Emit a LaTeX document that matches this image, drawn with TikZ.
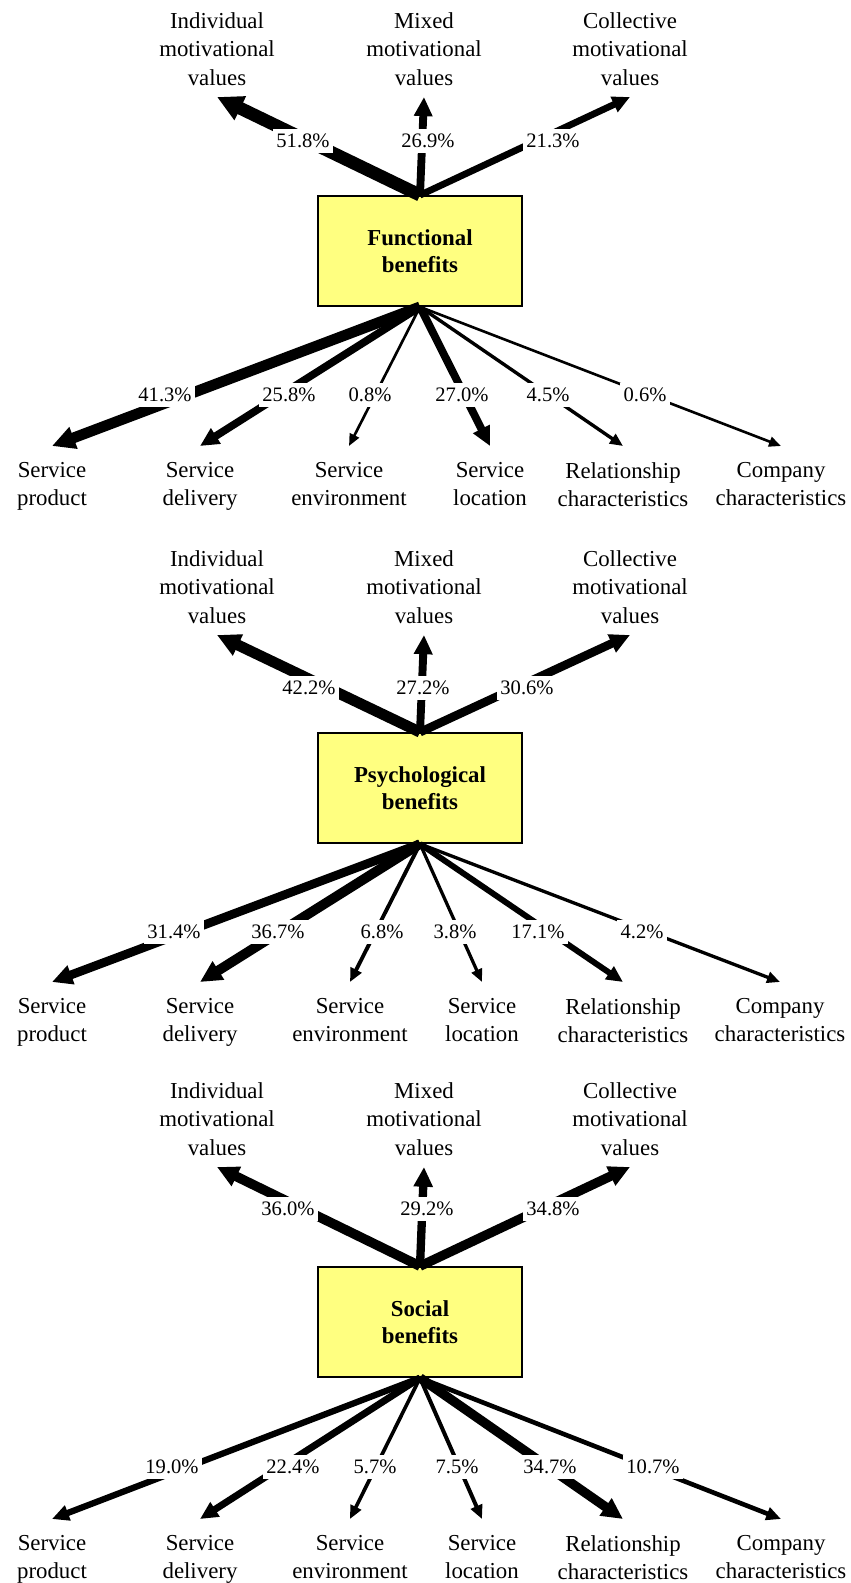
\documentclass[tikz,border=0pt]{standalone}
\usepackage{fontspec}
\setmainfont{Liberation Serif}
\usetikzlibrary{arrows.meta}

\definecolor{boxyellow}{HTML}{FFFF80}

\tikzset{
    benefit/.style={draw, line width=1pt, fill=boxyellow, minimum width=4.08cm, minimum height=2.2cm,
        align=center, font=\fontsize{13}{15.3}\selectfont\bfseries},
    motive/.style={anchor=south, align=center, inner xsep=0pt, inner ysep=6.5pt, font=\fontsize{13}{16.2}\selectfont},
    attribute/.style={anchor=north, align=center, inner xsep=0pt, inner ysep=9pt, font=\fontsize{13}{16.2}\selectfont},
    share/.style={fill=white, inner xsep=2pt, inner ysep=3pt, font=\fontsize{11.7}{14}\selectfont},
    flow/.style={-{Triangle[length=4.8pt 1.36, width=3.5pt 1.46]}}
}

\begin{document}
\begin{tikzpicture}[x=0.02cm, y=-0.02cm]
    
    \useasboundingbox (0,0) rectangle (850,1583);
    
    % Functional benefits
    \node[benefit] (fb) at (420,251) {Functional\\benefits};
    \node[motive] (fi) at (217,97) {Individual\\motivational\\values};
    \node[motive] (fm) at (424,97) {Mixed\\motivational\\values};
    \node[motive] (fc) at (630,97) {Collective\\motivational\\values};
    \node[attribute] (fsp) at (52,446) {Service\\product};
    \node[attribute] (fsd) at (200,446) {Service\\delivery};
    \node[attribute] (fse) at (349,446) {Service\\environment};
    \node[attribute] (fsl) at (490,446) {Service\\location};
    \node[attribute] (frc) at (623,446) {Relationship\\characteristics};
    \node[attribute] (fcc) at (781,446) {Company\\characteristics};
    
    % line width grows with the share
    \foreach \n/\w/\x in {fi/51.8/303, fm/26.9/428, fc/21.3/553} {
        \pgfmathsetmacro{\lw}{0.567*(2.5+0.2*\w)}
        \draw[flow, line width=\lw pt] (fb.north) -- (\n.south);
        \node[share] (\n-pct) at (\x,141) {\w\%};
    }
    \foreach \n/\w/\x in {fsp/41.3/165, fsd/25.8/289, fse/0.8/370, fsl/27.0/462, frc/4.5/548, fcc/0.6/645} {
        \pgfmathsetmacro{\lw}{0.567*(2.5+0.2*\w)}
        \draw[flow, line width=\lw pt] (fb.south) -- (\n.north);
        \node[share] (\n-pct) at (\x,395) {\w\%};
    }
    
    % Psychological benefits
    \node[benefit] (pb) at (420,788) {Psychological\\benefits};
    \node[motive] (pi) at (217,635) {Individual\\motivational\\values};
    \node[motive] (pm) at (424,635) {Mixed\\motivational\\values};
    \node[motive] (pc) at (630,635) {Collective\\motivational\\values};
    \node[attribute] (psp) at (52,982) {Service\\product};
    \node[attribute] (psd) at (200,982) {Service\\delivery};
    \node[attribute] (pse) at (350,982) {Service\\environment};
    \node[attribute] (psl) at (482,982) {Service\\location};
    \node[attribute] (prc) at (623,982) {Relationship\\characteristics};
    \node[attribute] (pcc) at (780,982) {Company\\characteristics};
    
    \foreach \n/\w/\x in {pi/42.2/309, pm/27.2/423, pc/30.6/527} {
        \pgfmathsetmacro{\lw}{0.567*(2.5+0.2*\w)}
        \draw[flow, line width=\lw pt] (pb.north) -- (\n.south);
        \node[share] (\n-pct) at (\x,688) {\w\%};
    }
    \foreach \n/\w/\x in {psp/31.4/174, psd/36.7/278, pse/6.8/382, psl/3.8/455, prc/17.1/538, pcc/4.2/642} {
        \pgfmathsetmacro{\lw}{0.567*(2.5+0.2*\w)}
        \draw[flow, line width=\lw pt] (pb.south) -- (\n.north);
        \node[share] (\n-pct) at (\x,932) {\w\%};
    }
    
    % Social benefits
    \node[benefit] (sb) at (420,1322) {Social\\benefits};
    \node[motive] (si) at (217,1167) {Individual\\motivational\\values};
    \node[motive] (sm) at (424,1167) {Mixed\\motivational\\values};
    \node[motive] (sc) at (630,1167) {Collective\\motivational\\values};
    \node[attribute] (ssp) at (52,1519) {Service\\product};
    \node[attribute] (ssd) at (200,1519) {Service\\delivery};
    \node[attribute] (sse) at (350,1519) {Service\\environment};
    \node[attribute] (ssl) at (482,1519) {Service\\location};
    \node[attribute] (src) at (623,1519) {Relationship\\characteristics};
    \node[attribute] (scc) at (781,1519) {Company\\characteristics};
    
    \foreach \n/\w/\x in {si/36.0/288, sm/29.2/427, sc/34.8/553} {
        \pgfmathsetmacro{\lw}{0.567*(2.5+0.2*\w)}
        \draw[flow, line width=\lw pt] (sb.north) -- (\n.south);
        \node[share] (\n-pct) at (\x,1209) {\w\%};
    }
    \foreach \n/\w/\x in {ssp/19.0/172, ssd/22.4/293, sse/5.7/375, ssl/7.5/457, src/34.7/550, scc/10.7/653} {
        \pgfmathsetmacro{\lw}{0.567*(2.5+0.2*\w)}
        \draw[flow, line width=\lw pt] (sb.south) -- (\n.north);
        \node[share] (\n-pct) at (\x,1467) {\w\%};
    }
    
\end{tikzpicture}
\end{document}
